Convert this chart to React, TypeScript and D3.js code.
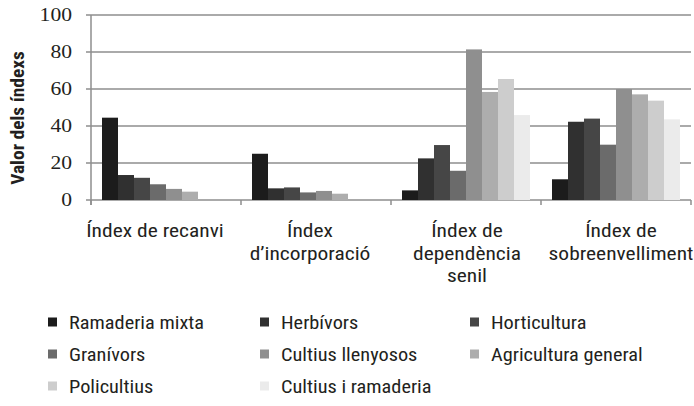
import React from "react";
import * as d3 from "d3";

const categories = ["recanvi", "incorporacio", "dependencia", "sobreenvelliment"];
const categoryLabels = [
  ["Índex de recanvi"],
  ["Índex", "d’incorporació"],
  ["Índex de", "dependència", "senil"],
  ["Índex de", "sobreenvelliment"],
];
const seriesNames = [
  "Ramaderia mixta",
  "Herbívors",
  "Horticultura",
  "Granívors",
  "Cultius llenyosos",
  "Agricultura general",
  "Policultius",
  "Cultius i ramaderia",
];
const seriesColors = ["#1c1c1c", "#303030", "#464646", "#6b6b6b", "#8f8f8f", "#adadad", "#cdcdcd", "#ebebeb"];
const recanvi = [44.5, 13.5, 12, 8.5, 6, 4.5, 0, 0];
const incorporacio = [25, 6.3, 6.8, 4.1, 4.9, 3.4, 0, 0];
const dependencia = [5.2, 22.5, 29.7, 15.8, 81.4, 58.4, 65.4, 45.9];
const sobreenvelliment = [11.2, 42.3, 44, 29.9, 60, 57.1, 53.7, 43.6];
const values = [recanvi, incorporacio, dependencia, sobreenvelliment];
const yTicks = [0, 20, 40, 60, 80, 100];

const W = 694;
const H = 406;
const left = 91;
const right = 691;
const top = 15;
const bottom = 200;
const SX = 1.13;
const labelShift = [-11, -6, 1, 5];
const cond = { fontFamily: '"Roboto Condensed", sans-serif' };
const serifStyle = { fontFamily: '"Liberation Serif", monospace' };
const textColor = "#231f20";
const gridColor = "#8e8e8e";

export default function App() {
  const x0 = d3.scaleBand<string>().domain(categories).range([left, right]).padding(0);
  const x1 = d3
    .scaleBand<string>()
    .domain(seriesNames)
    .range([0, x0.bandwidth()])
    .paddingInner(0)
    .paddingOuter(0.6875);
  const y = d3.scaleLinear().domain([0, 100]).range([bottom, top]);

  const legendCols = [48, 260, 470];
  const legendRows = [322, 354, 386];

  return (
    <svg width={W} height={H} style={{ position: "absolute", left: 0, top: 0, background: "#fff" }}>
      {yTicks.map((t) => (
        <line key={"g" + t} x1={left - 5} x2={right} y1={y(t)} y2={y(t)} stroke={gridColor} strokeWidth={1.5} />
      ))}
      <line x1={left} x2={left} y1={top} y2={bottom + 5} stroke={gridColor} strokeWidth={1.5} />
      {categories.map((c) => (
        <line key={"xt" + c} x1={x0(c)!} x2={x0(c)!} y1={bottom} y2={bottom + 5} stroke={gridColor} strokeWidth={1.5} />
      ))}
      <line x1={right} x2={right} y1={bottom} y2={bottom + 5} stroke={gridColor} strokeWidth={1.5} />
      {categories.map((c, ci) =>
        seriesNames.map((s, si) => {
          const v = values[ci][si];
          if (v <= 0) return null;
          return (
            <rect
              key={c + s}
              x={x0(c)! + x1(s)!}
              y={y(v)}
              width={x1.bandwidth()}
              height={bottom - y(v)}
              fill={seriesColors[si]}
            />
          );
        })
      )}
      {yTicks.map((t) => (
        <text
          key={"yl" + t}
          transform={`translate(72,${y(t) + 6}) scale(1.2,1)`}
          textAnchor="end"
          style={serifStyle}
          fontSize={18}
          fill={textColor}
        >
          {String(t)}
        </text>
      ))}
      <text
        transform={`translate(24,118) rotate(-90) scale(1.08,1)`}
        textAnchor="middle"
        style={cond}
        fontWeight="bold"
        fontSize={18}
        fill={textColor}
      >
        Valor dels índexs
      </text>
      {categories.map((c, ci) =>
        categoryLabels[ci].map((line, li) => (
          <text
            key={c + li}
            transform={`translate(${x0(c)! + x0.bandwidth() / 2 + labelShift[ci]},${237 + li * 22.7}) scale(${SX},1)`}
            textAnchor="middle"
            style={cond}
            fontSize={19}
            fill={textColor}
          >
            {line}
          </text>
        ))
      )}
      {seriesNames.map((s, i) => {
        const col = i % 3;
        const row = Math.floor(i / 3);
        const cx = legendCols[col];
        const cy = legendRows[row];
        return (
          <g key={"lg" + s}>
            <rect x={cx} y={cy - 4.5} width={9} height={9} fill={seriesColors[i]} />
            <text
              transform={`translate(${cx + 21},${cy + 6.5}) scale(${SX},1)`}
              style={cond}
              fontSize={18}
              fill={textColor}
            >
              {s}
            </text>
          </g>
        );
      })}
    </svg>
  );
}
